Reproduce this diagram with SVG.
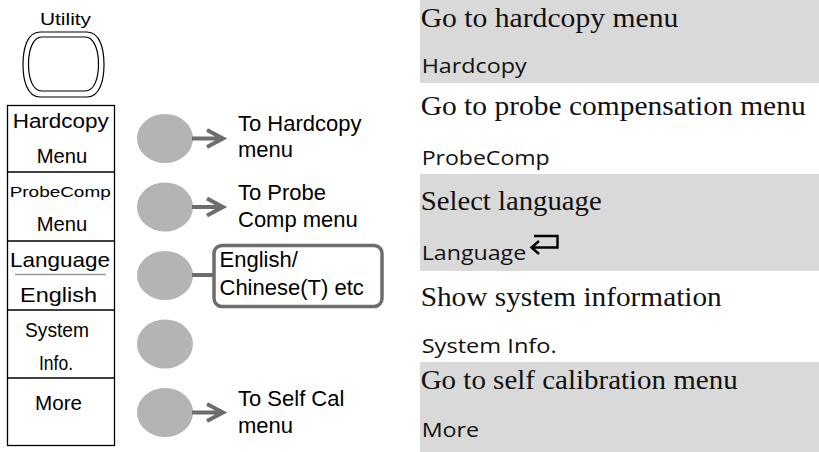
<svg xmlns="http://www.w3.org/2000/svg" width="819" height="452" viewBox="0 0 819 452">
<style>
.lbl{font-family:"Liberation Sans",Arial,sans-serif;fill:#000}
.desc{font-family:"Liberation Serif","Times New Roman",serif;font-size:28px;fill:#111}
.name{font-family:"Open Sans","Noto Sans",sans-serif;font-size:20px;fill:#111}
.btn{fill:#b4b4b4}
.conn{stroke:#6d6d6d;stroke-width:4;fill:none;stroke-linejoin:miter}
.band{fill:#d9d9d9}
.box{fill:#fff;stroke:#000;stroke-width:1.3}
</style>

<g id="bands">
<rect class="band" x="420" y="0" width="399" height="83"/>
<rect class="band" x="420" y="174" width="399" height="97"/>
<rect class="band" x="420" y="362" width="399" height="90"/>
</g>

<g id="utility">
<text class="lbl" x="40" y="25" font-size="16" textLength="51" lengthAdjust="spacingAndGlyphs">Utility</text>
<path d="M40,32 H87 C100,32 104,49 104,64.5 C104,80 100,97 87,97 H40 C27,97 23,80 23,64.5 C23,49 27,32 40,32 Z" fill="#fff" stroke="#000" stroke-width="1.2"/>
<path d="M42,37 H85 C95,37 98.5,52 98.5,64 C98.5,77 95,91 85,91 H42 C32,91 28.5,77 28.5,64 C28.5,52 32,37 42,37 Z" fill="#fff" stroke="#000" stroke-width="1.2"/>
</g>

<g id="menu">
<rect class="box" x="7.5" y="105.5" width="107" height="340"/>
<line x1="7.5" y1="172" x2="114.5" y2="172" stroke="#000" stroke-width="1.3"/>
<line x1="7.5" y1="241" x2="114.5" y2="241" stroke="#000" stroke-width="1.3"/>
<line x1="7.5" y1="310" x2="114.5" y2="310" stroke="#000" stroke-width="1.3"/>
<line x1="7.5" y1="378" x2="114.5" y2="378" stroke="#000" stroke-width="1.3"/>
<line x1="15" y1="274.5" x2="106" y2="274.5" stroke="#999" stroke-width="1.5"/>
<text class="lbl" x="12.7" y="128" font-size="20" textLength="96" lengthAdjust="spacingAndGlyphs">Hardcopy</text>
<text class="lbl" x="36.7" y="163" font-size="20" textLength="50.5" lengthAdjust="spacingAndGlyphs">Menu</text>
<text class="lbl" x="9.7" y="197" font-size="15" textLength="101" lengthAdjust="spacingAndGlyphs">ProbeComp</text>
<text class="lbl" x="36.7" y="231" font-size="20" textLength="50.5" lengthAdjust="spacingAndGlyphs">Menu</text>
<text class="lbl" x="10" y="267" font-size="21" textLength="100" lengthAdjust="spacingAndGlyphs">Language</text>
<text class="lbl" x="20" y="302" font-size="20" textLength="77" lengthAdjust="spacingAndGlyphs">English</text>
<text class="lbl" x="25" y="337" font-size="20" textLength="64" lengthAdjust="spacingAndGlyphs">System</text>
<text class="lbl" x="39" y="370" font-size="20" textLength="34" lengthAdjust="spacingAndGlyphs">Info.</text>
<text class="lbl" x="35" y="410" font-size="20" textLength="47" lengthAdjust="spacingAndGlyphs">More</text>
</g>

<g id="buttons">
<ellipse class="btn" cx="165" cy="138.5" rx="28" ry="24.5"/>
<ellipse class="btn" cx="165" cy="207" rx="28" ry="24.5"/>
<ellipse class="btn" cx="165" cy="275.5" rx="28" ry="24.5"/>
<ellipse class="btn" cx="165" cy="344" rx="28" ry="24.5"/>
<ellipse class="btn" cx="165" cy="412.5" rx="28" ry="24.5"/>
</g>

<g id="connectors">
<path class="conn" d="M192,138.5 H222 M207,130 L223,138.5 L207,147"/>
<path class="conn" d="M192,207 H222 M207,198.5 L223,207 L207,215.5"/>
<path class="conn" d="M192,412.5 H222 M207,404 L223,412.5 L207,421"/>
<path class="conn" d="M192,275 H214"/>
</g>

<g id="english-box">
<rect x="214" y="245.5" width="168" height="61" rx="8" fill="#fff" stroke="#6d6d6d" stroke-width="3.5"/>
<text class="lbl" x="219.5" y="267" font-size="22">English/</text>
<text class="lbl" x="219.5" y="295" font-size="22">Chinese(T) etc</text>
</g>

<g id="targets">
<text class="lbl" x="238" y="131" font-size="22">To Hardcopy</text>
<text class="lbl" x="238" y="157" font-size="22">menu</text>
<text class="lbl" x="238" y="200" font-size="22">To Probe</text>
<text class="lbl" x="238" y="227" font-size="22">Comp menu</text>
<text class="lbl" x="238" y="406" font-size="22">To Self Cal</text>
<text class="lbl" x="238" y="433" font-size="22">menu</text>
</g>

<g id="table">
<text class="desc" x="420.7" y="27" textLength="257.6" lengthAdjust="spacingAndGlyphs">Go to hardcopy menu</text>
<text class="name" x="421.7" y="73" textLength="105" lengthAdjust="spacingAndGlyphs">Hardcopy</text>
<text class="desc" x="420.7" y="115" textLength="385" lengthAdjust="spacingAndGlyphs">Go to probe compensation menu</text>
<text class="name" x="421.7" y="165" textLength="128" lengthAdjust="spacingAndGlyphs">ProbeComp</text>
<text class="desc" x="420.7" y="210" textLength="181" lengthAdjust="spacingAndGlyphs">Select language</text>
<text class="name" x="421.7" y="260" textLength="104.5" lengthAdjust="spacingAndGlyphs">Language</text>
<path d="M534,236 H557.5 V247.5 H532 M539,241 L531.5,247.5 L539,254" fill="none" stroke="#000" stroke-width="2.4"/>
<text class="desc" x="420.7" y="306" textLength="301" lengthAdjust="spacingAndGlyphs">Show system information</text>
<text class="name" x="421.7" y="353" textLength="135" lengthAdjust="spacingAndGlyphs">System Info.</text>
<text class="desc" x="420.7" y="389" textLength="317" lengthAdjust="spacingAndGlyphs">Go to self calibration menu</text>
<text class="name" x="421.7" y="437" textLength="57.5" lengthAdjust="spacingAndGlyphs">More</text>
</g>
</svg>
